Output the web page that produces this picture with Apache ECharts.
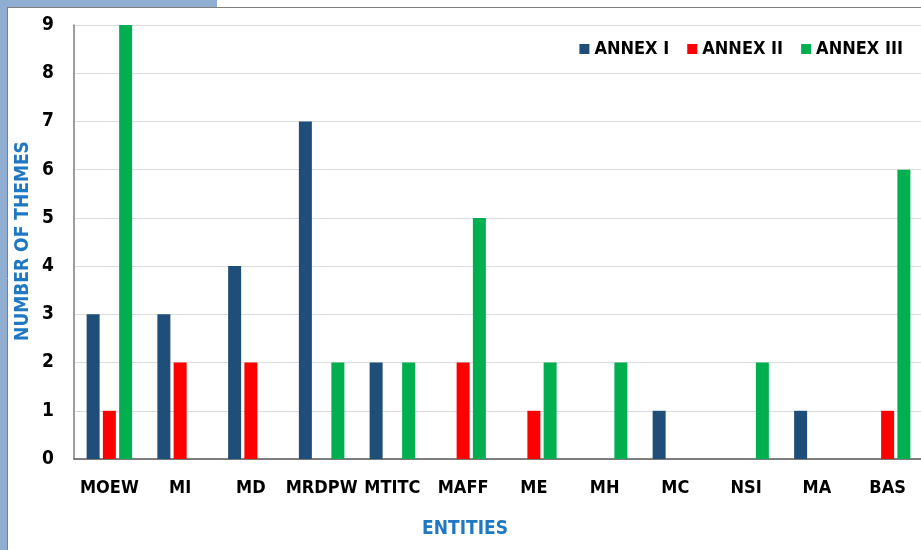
<!DOCTYPE html>
<html>
<head>
<meta charset="utf-8">
<script src="https://cdn.jsdelivr.net/npm/echarts@6/dist/echarts.min.js"></script>
<style>
html,body{margin:0;padding:0;background:#fff;}
#c{width:921px;height:550px;}
</style>
</head>
<body>
<div id="c"></div>
<script>
var categories = ['MOEW','MI','MD','MRDPW','MTITC','MAFF','ME','MH','MC','NSI','MA','BAS'];
var annex1 = [3,3,4,7,2,0,0,0,1,0,1,0];
var annex2 = [1,2,2,0,0,2,1,0,0,0,0,1];
var annex3 = [9,0,0,2,2,5,2,2,0,2,0,6];
var seriesNames = ['ANNEX I','ANNEX II','ANNEX III'];
var yTicks = [0,1,2,3,4,5,6,7,8,9];
var xTitle = 'ENTITIES';
var yTitle = 'NUMBER OF THEMES';

var FONT = '"Liberation Sans Narrow","Arial Narrow","DejaVu Sans Condensed","Liberation Sans",Arial,sans-serif';
var chart = echarts.init(document.getElementById('c'), null, {renderer:'canvas'});
function bar(name, data, color){
  return {name:name, type:'bar', data:data, barWidth:13, barGap:'25%',
    itemStyle:{color:color}, emphasis:{disabled:true}};
}
chart.setOption({
  animation:false,
  backgroundColor:'#ffffff',
  graphic:[
    {type:'rect', shape:{x:0,y:0,width:7,height:550}, style:{fill:'#8FAED2'}, z:-10},
    {type:'rect', shape:{x:0,y:0,width:217,height:7}, style:{fill:'#8FAED2'}, z:-10},
    {type:'line', shape:{x1:7,y1:7.5,x2:921,y2:7.5}, style:{stroke:'#7f7f7f',lineWidth:1}, z:-9},
    {type:'line', shape:{x1:7.5,y1:7,x2:7.5,y2:550}, style:{stroke:'#7f7f7f',lineWidth:1}, z:-9},
    {type:'text', x:465, y:529, style:{text:xTitle, font:'bold 19px '+FONT, fill:'#1F78C1', align:'center', verticalAlign:'middle'}},
    {type:'text', x:23, y:241, rotation:Math.PI/2,
      style:{text:yTitle, font:'bold 19px '+FONT, fill:'#1F78C1', align:'center', verticalAlign:'middle'}}
  ],
  legend:{
    top:35, right:13, itemWidth:10, itemHeight:10, itemGap:18,
    icon:'rect',
    textStyle:{fontFamily:FONT, fontWeight:'bold', fontSize:18, color:'#000'},
    data:seriesNames
  },
  grid:{left:74, top:25, width:849, height:434, containLabel:false, outerBoundsMode:'none'},
  xAxis:{
    type:'category', data:categories,
    axisLine:{lineStyle:{color:'#595959', width:1.5}},
    axisTick:{show:false},
    axisLabel:{fontFamily:FONT, fontWeight:'bold', fontSize:18, color:'#000', margin:20, interval:0}
  },
  yAxis:{
    type:'value', min:0, max:9, interval:1,
    axisLine:{show:true, lineStyle:{color:'#7f7f7f', width:1.5}},
    axisTick:{show:false},
    splitLine:{lineStyle:{color:'#DCDCDC', width:1}},
    axisLabel:{fontFamily:FONT, fontWeight:'bold', fontSize:19, color:'#000', margin:20,
      formatter:function(v){return yTicks.indexOf(v)>=0 ? String(v) : '';}}
  },
  series:[
    bar(seriesNames[0], annex1, '#1F4E79'),
    bar(seriesNames[1], annex2, '#FF0000'),
    bar(seriesNames[2], annex3, '#00B050')
  ]
});
</script>
</body>
</html>
